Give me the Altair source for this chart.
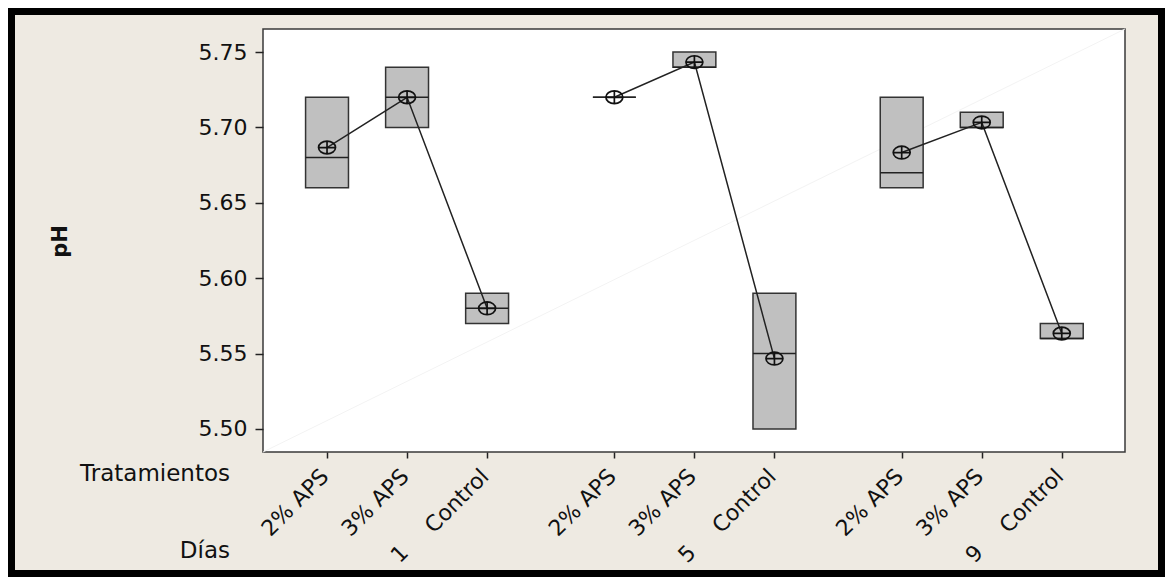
import altair as alt
import pandas as pd

# ---- data ----
dias = ["1", "5", "9"]
tratamientos = ["2% APS", "3% APS", "Control"]
# replicate pH values, ordered day-major: (1,2%),(1,3%),(1,Ctrl),(5,2%),...
rep_1 = [5.66, 5.70, 5.57, 5.72, 5.74, 5.50, 5.66, 5.70, 5.56]
rep_2 = [5.68, 5.72, 5.58, 5.72, 5.74, 5.55, 5.67, 5.70, 5.56]
rep_3 = [5.72, 5.74, 5.59, 5.72, 5.75, 5.59, 5.72, 5.71, 5.57]
y_ticks = [5.50, 5.55, 5.60, 5.65, 5.70, 5.75]

# ---- layout ----
GROUP_STEP = 3.59
W, H = 862, 423
FONT = "DejaVu Sans"
TXT = "#111111"

rows = []
for di, d in enumerate(dias):
    for ti, t in enumerate(tratamientos):
        k = di * 3 + ti
        for rep in (rep_1, rep_2, rep_3):
            rows.append({"dia": d, "trat": t, "pos": di * GROUP_STEP + ti, "ph": rep[k]})
df = pd.DataFrame(rows)
tick_pos = sorted(df["pos"].unique().tolist())

xscale = alt.Scale(domain=[-0.8, 9.97], nice=False, zero=False)
yscale = alt.Scale(domain=[5.4847, 5.7653], nice=False, zero=False)

xaxis = alt.Axis(values=tick_pos, labels=False, title=None, grid=False, domain=False,
                 ticks=True, tickSize=6, tickWidth=1.5, tickColor="#222")
yaxis = alt.Axis(values=y_ticks, format=".2f", grid=False, domain=False,
                 tickSize=8, tickWidth=1.5, tickColor="#222",
                 labelFont=FONT, labelFontSize=22, labelColor=TXT, labelPadding=8,
                 title="pH", titleFont=FONT, titleFontSize=21, titleFontWeight="bold",
                 titleColor=TXT, titleAngle=270, titleX=-203, titleY=212,
                 titleAlign="center", titleBaseline="middle")

base = alt.Chart(df).transform_aggregate(
    lo="min(ph)", hi="max(ph)", med="median(ph)", mean="mean(ph)",
    groupby=["dia", "trat", "pos"]
).transform_calculate(
    x_lo="datum.pos - 0.268", x_hi="datum.pos + 0.268",
    lab_x="datum.pos - 0.025", day_x="datum.pos - 0.09"
)

one = alt.Chart(pd.DataFrame({"a": [0]}))

diag = one.mark_rule(color="#f3f3f3", strokeWidth=1).encode(
    x=alt.value(0), y=alt.value(H), x2=alt.value(W), y2=alt.value(0))

boxes = base.mark_rect(fill="#C0C0C0", stroke="#333333", strokeWidth=1.5).encode(
    x=alt.X("x_lo:Q", scale=xscale, axis=xaxis),
    x2="x_hi:Q",
    y=alt.Y("lo:Q", scale=yscale, axis=yaxis),
    y2="hi:Q",
)

medians = base.mark_rule(color="#222", strokeWidth=1.5).encode(
    x=alt.X("x_lo:Q", scale=xscale, axis=xaxis),
    x2="x_hi:Q",
    y=alt.Y("med:Q", scale=yscale, axis=yaxis),
)

mean_line = base.mark_line(color="#222", strokeWidth=1.5).encode(
    x=alt.X("pos:Q", scale=xscale, axis=xaxis),
    y=alt.Y("mean:Q", scale=yscale, axis=yaxis),
    detail="dia:N",
)

PATH = ("M -1 0 A 1 0.75 0 1 1 1 0 A 1 0.75 0 1 1 -1 0 Z "
        "M -1 0 L 1 0 M 0 -0.75 L 0 0.75")
mean_pts = base.mark_point(shape=PATH, filled=False, color="#111", strokeWidth=1.7,
                           size=289, opacity=1).encode(
    x=alt.X("pos:Q", scale=xscale, axis=xaxis),
    y=alt.Y("mean:Q", scale=yscale, axis=yaxis),
)

trat_labels = base.mark_text(angle=315, align="right", baseline="middle",
                             font=FONT, fontSize=22, color=TXT).encode(
    x=alt.X("lab_x:Q", scale=xscale, axis=xaxis),
    y=alt.value(H + 21),
    text="trat:N",
)

day_labels = base.transform_filter("datum.trat == '3% APS'").mark_text(
    angle=315, align="center", baseline="middle", font=FONT, fontSize=22, color=TXT
).encode(
    x=alt.X("day_x:Q", scale=xscale, axis=xaxis),
    y=alt.value(H + 102),
    text="dia:N",
)

row1 = one.mark_text(align="right", baseline="middle", font=FONT, fontSize=23, color=TXT).encode(
    x=alt.value(-33), y=alt.value(445), text=alt.value("Tratamientos"))
row2 = one.mark_text(align="right", baseline="middle", font=FONT, fontSize=23, color=TXT).encode(
    x=alt.value(-33), y=alt.value(522), text=alt.value("Días"))

frame = one.mark_rect(filled=False, stroke="black", strokeWidth=7, clip=False).encode(
    x=alt.value(-251.5), x2=alt.value(W + 36.5), y=alt.value(-17.5), y2=alt.value(H + 121.5))

chart = alt.layer(
    diag, boxes, medians, mean_line, mean_pts, trat_labels, day_labels, row1, row2, frame
).properties(
    width=W, height=H,
    padding={"left": 255, "top": 21, "right": 40, "bottom": 125},
    autosize=alt.AutoSizeParams(type="none"),
    background="#EEEAE2",
).configure_view(
    fill="white", stroke="#3a3a3a", strokeWidth=1.5
)

chart.save("out.html", embed_options={"renderer": "svg", "actions": False})
